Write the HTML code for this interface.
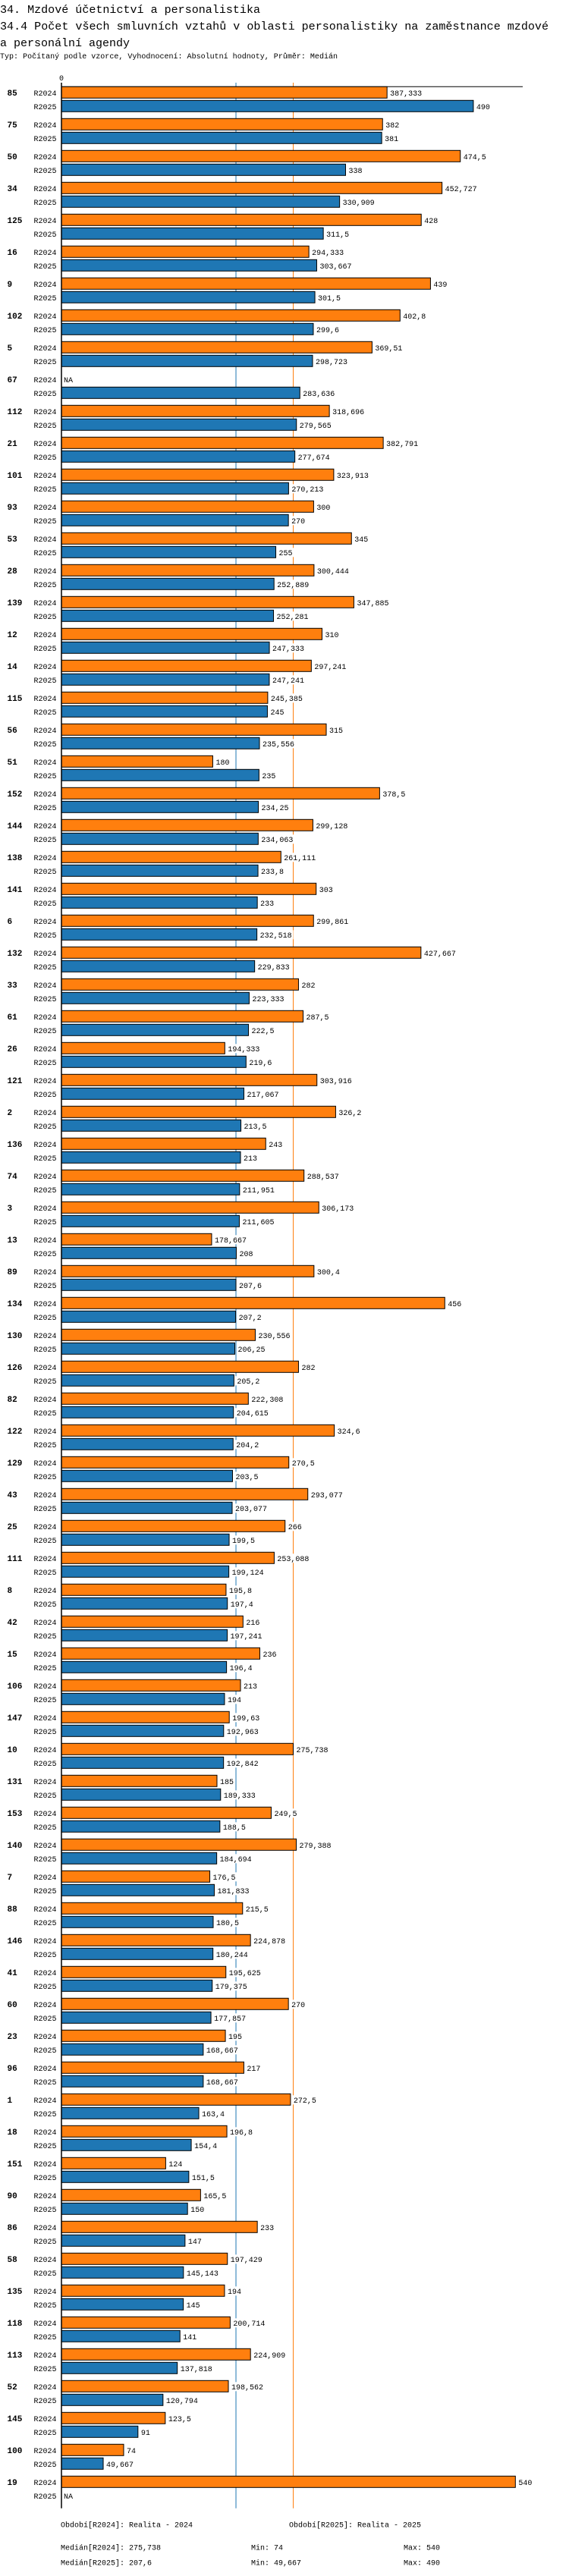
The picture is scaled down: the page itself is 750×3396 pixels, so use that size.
<!DOCTYPE html>
<html><head><meta charset="utf-8">
<style>
html,body{margin:0;padding:0;background:#fff;}
svg{display:block;font-family:"Liberation Mono",monospace;}
</style></head>
<body>
<svg id="chart" width="750" height="3396" viewBox="0 0 750 3396" xmlns="http://www.w3.org/2000/svg">
<text x="0" y="17" font-size="15" textLength="343" lengthAdjust="spacingAndGlyphs">34. Mzdové účetnictví a personalistika</text>
<text x="0" y="39" font-size="15" textLength="723" lengthAdjust="spacingAndGlyphs">34.4 Počet všech smluvních vztahů v oblasti personalistiky na zaměstnance mzdové</text>
<text x="0" y="61" font-size="15" textLength="171" lengthAdjust="spacingAndGlyphs">a personální agendy</text>
<text x="0" y="77" font-size="10" textLength="445" lengthAdjust="spacingAndGlyphs">Typ: Počítaný podle vzorce, Vyhodnocení: Absolutní hodnoty, Průměr: Medián</text>
<g id="plot"></g>
</svg>
<script>
const categories=["85","75","50","34","125","16","9","102","5","67","112","21","101","93","53","28","139","12","14","115","56","51","152","144","138","141","6","132","33","61","26","121","2","136","74","3","13","89","134","130","126","82","122","129","43","25","111","8","42","15","106","147","10","131","153","140","7","88","146","41","60","23","96","1","18","151","90","86","58","135","118","113","52","145","100","19"];
const r2024=[387.333,382,474.5,452.727,428,294.333,439,402.8,369.51,null,318.696,382.791,323.913,300,345,300.444,347.885,310,297.241,245.385,315,180,378.5,299.128,261.111,303,299.861,427.667,282,287.5,194.333,303.916,326.2,243,288.537,306.173,178.667,300.4,456,230.556,282,222.308,324.6,270.5,293.077,266,253.088,195.8,216,236,213,199.63,275.738,185,249.5,279.388,176.5,215.5,224.878,195.625,270,195,217,272.5,196.8,124,165.5,233,197.429,194,200.714,224.909,198.562,123.5,74,540];
const r2025=[490,381,338,330.909,311.5,303.667,301.5,299.6,298.723,283.636,279.565,277.674,270.213,270,255,252.889,252.281,247.333,247.241,245,235.556,235,234.25,234.063,233.8,233,232.518,229.833,223.333,222.5,219.6,217.067,213.5,213,211.951,211.605,208,207.6,207.2,206.25,205.2,204.615,204.2,203.5,203.077,199.5,199.124,197.4,197.241,196.4,194,192.963,192.842,189.333,188.5,184.694,181.833,180.5,180.244,179.375,177.857,168.667,168.667,163.4,154.4,151.5,150,147,145.143,145,141,137.818,120.794,91,49.667,null];
const medians=[275.738,207.6];
const seriesNames=["R2024","R2025"];
const colors=["#ff7f0e","#1f77b4"];

const NS="http://www.w3.org/2000/svg";
const plotG=document.getElementById('plot');
const X0=81, K=1.108, Y0=114.3, PITCH=42, BH=15;
const xs=v=>X0+v*K;
const ys=(i,s)=>Y0+i*PITCH+s*18;
function mk(tag,attrs,txt){const e=document.createElementNS(NS,tag);for(const k in attrs)e.setAttribute(k,attrs[k]);if(txt!=null)e.textContent=txt;plotG.appendChild(e);return e;}
const fmt=v=>String(v).replace('.',',');
const yEnd=3306.7;

medians.forEach((m,s)=>{
  const l=mk('line',{x1:xs(m),x2:xs(m),y1:109,y2:yEnd,stroke:colors[s],'stroke-width':1});
  
  
});
const zeroLbl=mk('text',{x:X0-3,y:106,'font-size':10},'0');


const topLine=mk('line',{x1:X0,x2:689,y1:114.3,y2:114.3,stroke:'#000','stroke-width':1});



categories.forEach((c,i)=>{
  const gl=mk('text',{x:9.5,y:ys(i,0)+11.5,'font-size':11,'font-weight':'bold'},c);
  
  
  [r2024,r2025].forEach((arr,s)=>{
    const y=ys(i,s);
    const sl=mk('text',{x:44.5,y:y+11.5,'font-size':10},seriesNames[s]);
    
    
    const v=arr[i];
    if(v==null){
      const na=mk('text',{x:X0+3,y:y+11.5,'font-size':10},'NA');
      
      
      return;
    }
    const w=v*K;
    const b=mk('rect',{x:X0,y:y,width:w,height:BH,fill:colors[s],stroke:'#000','stroke-width':1});
    
    
    const t=fmt(v);
    mk('rect',{x:X0+w+2,y:y+2,width:t.length*6+4,height:12,fill:'#fff'});
    const vl=mk('text',{x:X0+w+4,y:y+11.5,'font-size':10},t);
    
    
  });
});
const ax=mk('line',{x1:X0,x2:X0,y1:109,y2:yEnd,stroke:'#000','stroke-width':1.5});



const foot=[
 [80,3331.5,'Období[R2024]: Realita - 2024','legend-r2024'],
 [381,3331.5,'Období[R2025]: Realita - 2025','legend-r2025'],
 [80,3361.5,'Medián[R2024]: 275,738','median-r2024'],
 [331,3361.5,'Min: 74','min-r2024'],
 [532,3361.5,'Max: 540','max-r2024'],
 [80,3381.5,'Medián[R2025]: 207,6','median-r2025'],
 [331,3381.5,'Min: 49,667','min-r2025'],
 [532,3381.5,'Max: 490','max-r2025']
];
foot.forEach(f=>{
  const t=mk('text',{x:f[0],y:f[1],'font-size':10},f[2]);
  
  
});
</script>
</body></html>
